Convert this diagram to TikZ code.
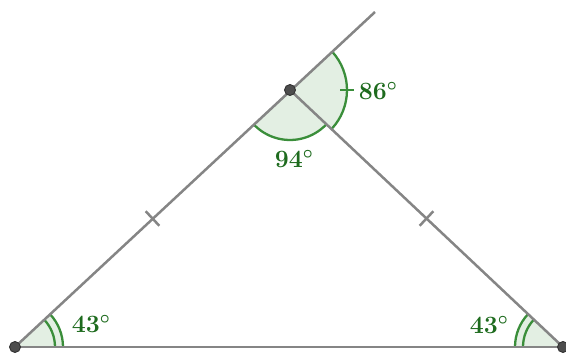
\documentclass[tikz,border=0pt]{standalone}
\usepackage{tikz}
\usetikzlibrary{angles,calc}
\definecolor{sidegray}{HTML}{858585}
\definecolor{arcgreen}{HTML}{3A8E3A}
\definecolor{labelgreen}{HTML}{1E6B1E}
\definecolor{pointgray}{HTML}{4D4D4D}

\begin{document}
\begin{tikzpicture}[
    x=1pt, y=1pt,
    side/.style={draw=sidegray, line width=2.5pt},
    vertex/.style={
        circle,
        fill=pointgray,
        draw=black!80,
        line width=0.9pt,
        minimum size=11pt,
        inner sep=0pt
    },
    sector/.style={
        draw=arcgreen,
        fill=arcgreen!14,
        line width=2.3pt
    },
    arcline/.style={draw=arcgreen, line width=2.3pt},
    degree/.style={
        text=labelgreen,
        font=\fontsize{26}{30}\selectfont\boldmath
    }
]
    \useasboundingbox (0,0) rectangle (566,353);

    \coordinate (A) at (15,6);
    \coordinate (B) at (290,263);
    \coordinate (C) at (563,6);
    \coordinate (E) at (375,341);

    % angle marks
    \pic[sector, angle radius=48pt] {angle=C--A--B};
    \pic[arcline, angle radius=40pt] {angle=C--A--B};
    \pic[sector, angle radius=48pt] {angle=B--C--A};
    \pic[arcline, angle radius=40pt] {angle=B--C--A};
    \pic[sector, angle radius=50pt] {angle=A--B--C};
    \pic[sector, angle radius=57pt] {angle=C--B--E};
    \draw[arcline] ([shift={(50,0)}]B) -- ([shift={(64,0)}]B);

    % sides
    \draw[side] (A) -- (C);
    \draw[side] (A) -- (E);
    \draw[side] (B) -- (C);

    % equal sides
    \coordinate (mAB) at ($(A)!0.5!(B)$);
    \coordinate (mBC) at ($(B)!0.5!(C)$);
    \draw[side] ($(mAB)!10pt!90:(B)$) -- ($(mAB)!10pt!-90:(B)$);
    \draw[side] ($(mBC)!10pt!90:(C)$) -- ($(mBC)!10pt!-90:(C)$);

    \node[vertex] (pA) at (A) {};
    \node[vertex] (pB) at (B) {};
    \node[vertex] (pC) at (C) {};

    % labels
    \node[degree] (lA) at (91,29) {$43^\circ$};
    \node[degree] (lC) at (489,28) {$43^\circ$};
    \node[degree] (lB) at (294,194) {$94^\circ$};
    \node[degree] (lE) at (378,262) {$86^\circ$};
\end{tikzpicture}
\end{document}
